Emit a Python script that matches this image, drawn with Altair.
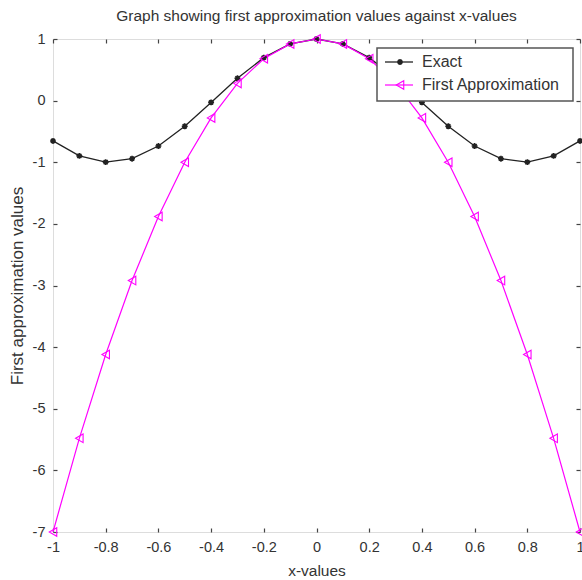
import altair as alt
import pandas as pd

x_vals = [-1.0, -0.9, -0.8, -0.7, -0.6, -0.5, -0.4, -0.3, -0.2, -0.1, 0.0,
          0.1, 0.2, 0.3, 0.4, 0.5, 0.6, 0.7, 0.8, 0.9, 1.0]
exact_vals = [-0.654, -0.897, -0.998, -0.942, -0.737, -0.416, -0.029, 0.362, 0.697, 0.921, 1.0,
              0.921, 0.697, 0.362, -0.029, -0.416, -0.737, -0.942, -0.998, -0.897, -0.654]
approx_vals = [-7.0, -5.48, -4.12, -2.92, -1.88, -1.0, -0.28, 0.28, 0.68, 0.92, 1.0,
               0.92, 0.68, 0.28, -0.28, -1.0, -1.88, -2.92, -4.12, -5.48, -7.0]
x_ticks = [-1, -0.8, -0.6, -0.4, -0.2, 0, 0.2, 0.4, 0.6, 0.8, 1]
y_ticks = [-7, -6, -5, -4, -3, -2, -1, 0, 1]
legend_labels = ["Exact", "First Approximation"]

FONT = "Liberation Sans"
BLACK = "#222222"
MAG = "#ff00ff"
TXT = "#333333"
STAR = "M-1,0L1,0M0,-1L0,1M-0.7,-0.7L0.7,0.7M-0.7,0.7L0.7,-0.7"

df = pd.DataFrame({"x": x_vals, "exact": exact_vals, "approx": approx_vals})

xs = alt.Scale(domain=[-1, 1], nice=False, zero=False)
ys = alt.Scale(domain=[-7, 1], nice=False, zero=False)

ax_common = dict(domain=False, grid=False, tickSize=4, offset=-4, tickColor="#444",
                 tickWidth=1.2, labelFont=FONT, labelFontSize=14.5, labelColor=TXT,
                 labelExpr="'' + datum.value", labelOverlap=False,
                 titleFont=FONT, titleFontWeight="normal", titleColor=TXT)

x_bottom = alt.X("x:Q", scale=xs, axis=alt.Axis(values=x_ticks, title="x-values", orient="bottom",
                 labelPadding=8, titlePadding=10, titleFontSize=15.5, labelFlush=False, **ax_common))
y_left = alt.Y("exact:Q", scale=ys, axis=alt.Axis(values=y_ticks, title="First approximation values",
               orient="left", labelPadding=8, titlePadding=6, titleFontSize=17, **ax_common))

x_top = alt.X("x:Q", scale=xs, axis=alt.Axis(values=x_ticks, title=None, orient="top", labels=False, **ax_common))
y_right = alt.Y("approx:Q", scale=ys, axis=alt.Axis(values=y_ticks, title=None, orient="right", labels=False, **ax_common))

base = alt.Chart(df)

exact_line = base.mark_line(color=BLACK, strokeWidth=1.3).encode(x=x_bottom, y=y_left)
exact_pts = base.mark_point(shape=STAR, color=BLACK, size=35, strokeWidth=1.6, filled=False, opacity=1).encode(
    x=alt.X("x:Q", scale=xs, axis=None), y=alt.Y("exact:Q", scale=ys, axis=None))

approx_line = base.mark_line(color=MAG, strokeWidth=1.2).encode(x=x_top, y=y_right)
approx_pts = base.mark_point(shape="triangle-left", color=MAG, size=75, strokeWidth=1.1, filled=False, opacity=1).encode(
    x=alt.X("x:Q", scale=xs, axis=None), y=alt.Y("approx:Q", scale=ys, axis=None))

one = pd.DataFrame({"a": [0]})
leg_box = alt.Chart(one).mark_rect(fill="white", stroke="#555", strokeWidth=1.5).encode(
    x=alt.value(324), x2=alt.value(520), y=alt.value(9), y2=alt.value(62))
leg1_line = alt.Chart(one).mark_rule(color=BLACK, strokeWidth=1.3).encode(
    x=alt.value(332), x2=alt.value(360), y=alt.value(23))
leg1_pt = alt.Chart(one).mark_point(shape=STAR, color=BLACK, size=35, strokeWidth=1.6, opacity=1).encode(
    x=alt.value(347), y=alt.value(23))
leg1_txt = alt.Chart(pd.DataFrame({"t": [legend_labels[0]]})).mark_text(
    align="left", baseline="middle", font=FONT, fontSize=16, color=TXT).encode(
    x=alt.value(369), y=alt.value(23), text="t:N")
leg2_line = alt.Chart(one).mark_rule(color=MAG, strokeWidth=1.2).encode(
    x=alt.value(332), x2=alt.value(360), y=alt.value(46))
leg2_pt = alt.Chart(one).mark_point(shape="triangle-left", color=MAG, size=75, strokeWidth=1.1, opacity=1).encode(
    x=alt.value(347), y=alt.value(46))
leg2_txt = alt.Chart(pd.DataFrame({"t": [legend_labels[1]]})).mark_text(
    align="left", baseline="middle", font=FONT, fontSize=16, color=TXT).encode(
    x=alt.value(369), y=alt.value(46), text="t:N")

chart = alt.layer(
    exact_line, approx_line, exact_pts, approx_pts,
    leg_box, leg1_line, leg1_pt, leg1_txt, leg2_line, leg2_pt, leg2_txt
).resolve_axis(x="independent", y="independent").properties(
    width=527, height=493,
    title=alt.TitleParams("Graph showing first approximation values against x-values",
                          font=FONT, fontSize=15.5, fontWeight="normal", color=TXT, offset=7),
    autosize=alt.AutoSizeParams(type="none"),
    padding={"left": 53, "top": 39, "right": 2, "bottom": 48},
).configure_view(stroke="#555", strokeWidth=2).configure(background="white")

chart.save("out.html", embed_options={"renderer": "svg", "actions": False})
